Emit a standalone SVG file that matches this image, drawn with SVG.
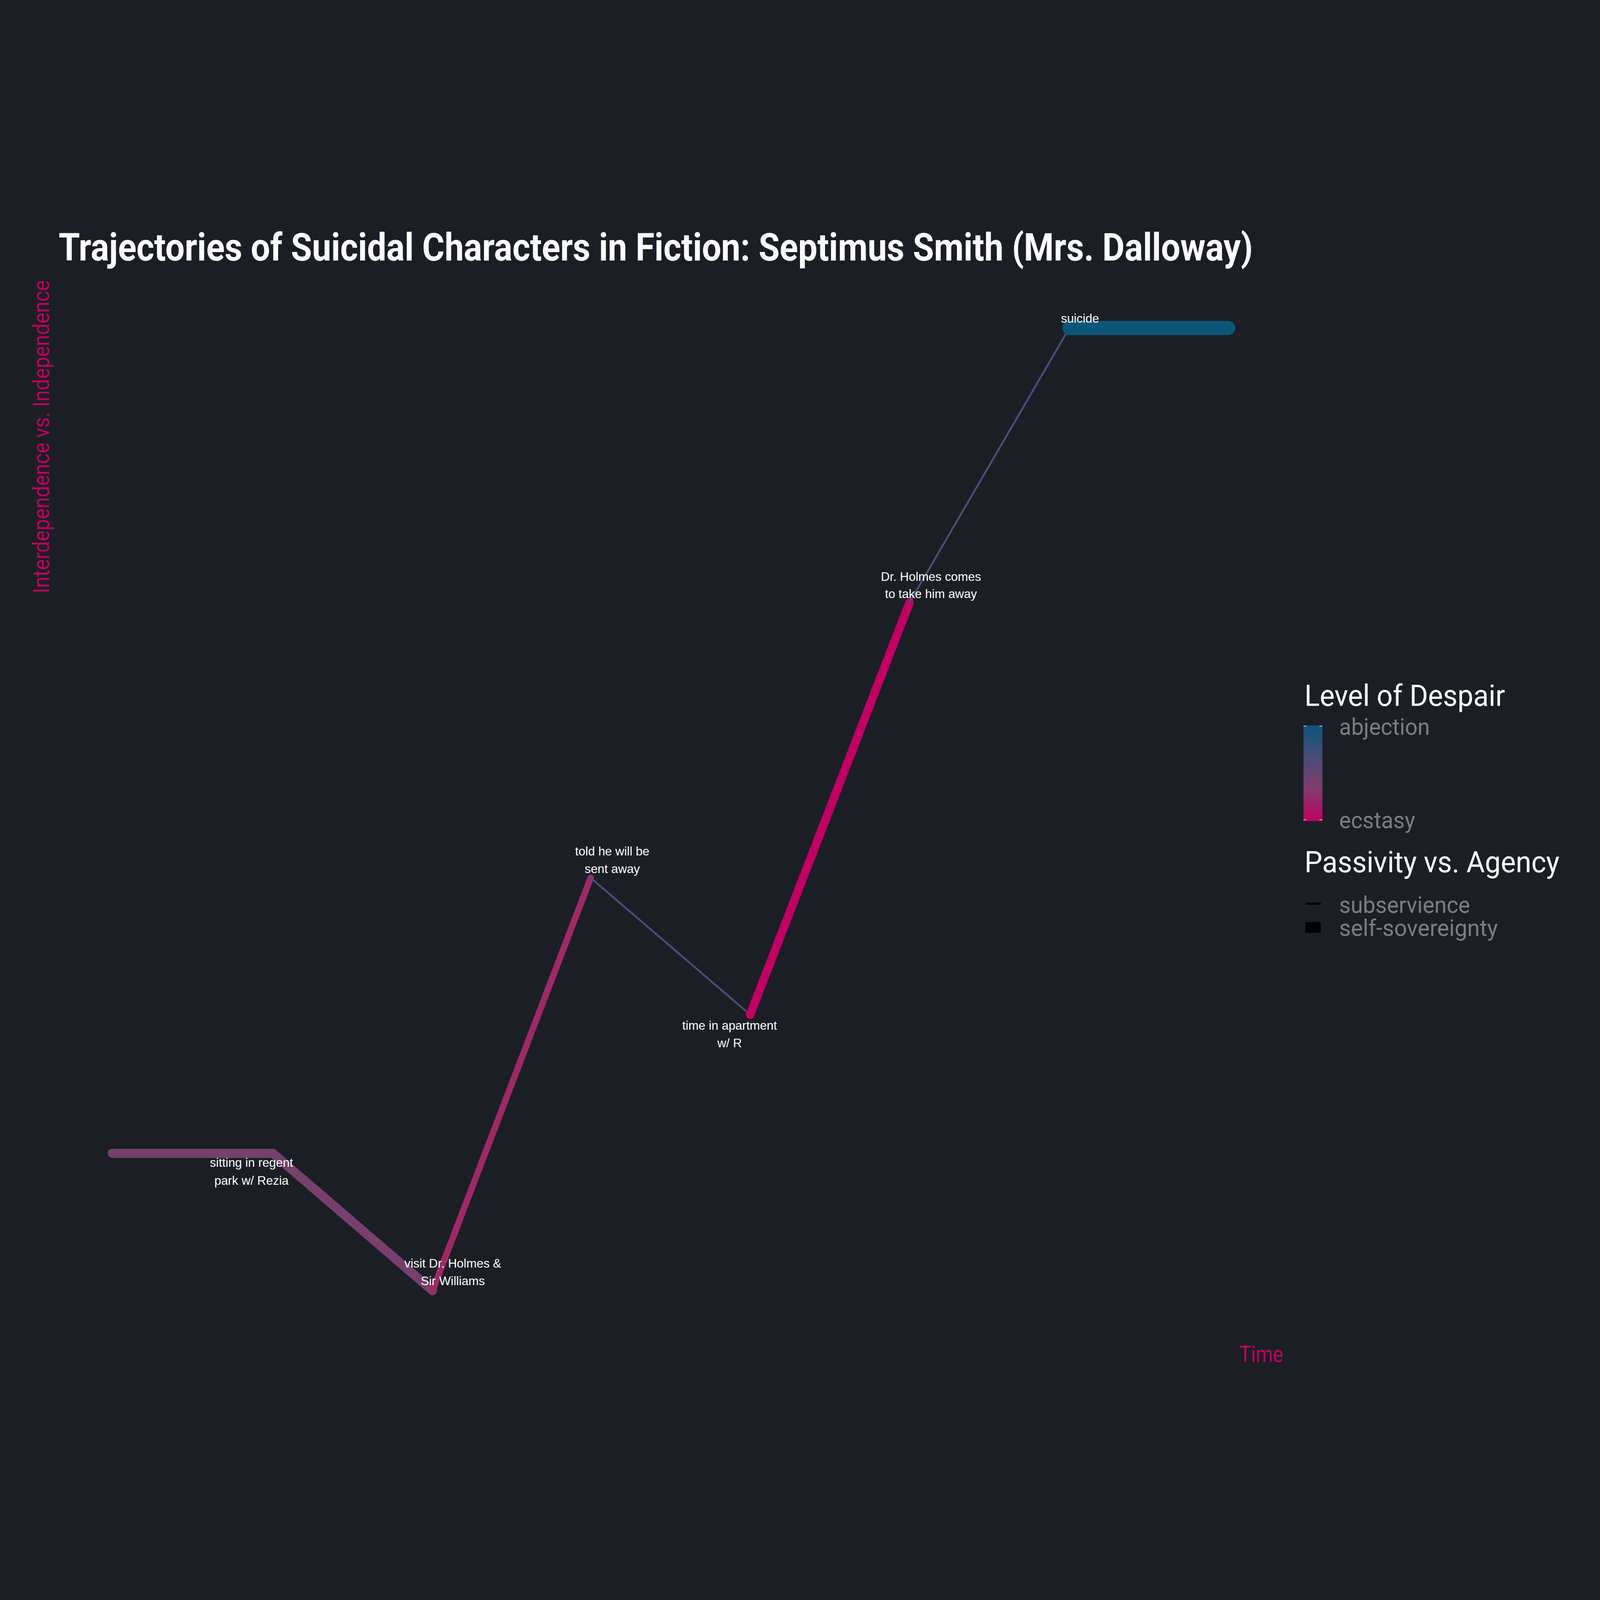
<svg xmlns="http://www.w3.org/2000/svg" width="6000" height="4500" viewBox="0 0 6000 4500" style="width:100vw;height:100vh;display:block;background:#1c1e26">
<defs>
<linearGradient id="despair" x1="0" y1="0" x2="0" y2="1">
<stop offset="0" stop-color="#0b5678"/>
<stop offset="0.35" stop-color="#4b4a78"/>
<stop offset="0.65" stop-color="#7e3e6c"/>
<stop offset="1" stop-color="#c00063"/>
</linearGradient>
<style>
.seg{fill:none;stroke-linecap:round;stroke-linejoin:round}
.lbl{font-family:"Liberation Sans",Arial,sans-serif;font-size:46px;fill:#ffffff;text-anchor:middle}
.axis{font-family:Roboto,"Noto Sans",sans-serif;font-size:86px;fill:#c00063}
.lgt{font-family:Roboto,"Noto Sans",sans-serif;font-size:112px;fill:#ffffff}
.lgl{font-family:Roboto,"Noto Sans",sans-serif;font-size:88px;fill:#7c7b86}
</style>
</defs>
<rect x="0" y="0" width="6000" height="4500" fill="#1c1e26"/>
<text x="220" y="227" font-family="Roboto,'Noto Sans',sans-serif" font-size="144" font-weight="bold" fill="#ffffff" textLength="4478" lengthAdjust="spacingAndGlyphs">Trajectories of Suicidal Characters in Fiction: Septimus Smith (Mrs. Dalloway)</text>
<text class="axis" transform="translate(185,1475) rotate(-90)" textLength="1174" lengthAdjust="spacingAndGlyphs">Interdependence vs. Independence</text>
<text class="axis" x="4648" y="4358" textLength="164" lengthAdjust="spacingAndGlyphs">Time</text>
<g id="connectors">
<path class="seg" d="M421,3575 L1023,3575" stroke="#763f6d" stroke-width="34"/>
<path class="seg" d="M1023,3575 L1622,4090" stroke="#763f6d" stroke-width="34"/>
<path class="seg" d="M1622,4090 L2215,2542" stroke="#9d2968" stroke-width="24"/>
<path class="seg" d="M2215,2542 L2813,3055" stroke="#4e4c7a" stroke-width="7"/>
<path class="seg" d="M2813,3055 L3411,1509" stroke="#c00063" stroke-width="32"/>
<path class="seg" d="M3411,1509 L4010,480" stroke="#4e4c7a" stroke-width="7"/>
<path class="seg" d="M4010,480 L4606,480" stroke="#0b5678" stroke-width="53"/>
</g>
<g id="node-sitting"><text class="lbl" x="943" y="3626">sitting in regent</text><text class="lbl" x="943" y="3693">park w/ Rezia</text></g>
<g id="node-visit"><text class="lbl" x="1698" y="4004">visit Dr. Holmes &amp;</text><text class="lbl" x="1698" y="4070">Sir Williams</text></g>
<g id="node-told"><text class="lbl" x="2296" y="2458">told he will be</text><text class="lbl" x="2296" y="2524">sent away</text></g>
<g id="node-apartment"><text class="lbl" x="2736" y="3111">time in apartment</text><text class="lbl" x="2736" y="3177">w/ R</text></g>
<g id="node-holmes"><text class="lbl" x="3491" y="1428">Dr. Holmes comes</text><text class="lbl" x="3491" y="1493">to take him away</text></g>
<g id="node-suicide"><text class="lbl" x="4050" y="460">suicide</text></g>
<g id="legend">
<text class="lgt" x="4892" y="1897" textLength="752" lengthAdjust="spacingAndGlyphs">Level of Despair</text>
<rect x="4888" y="1970" width="71" height="359" fill="url(#despair)"/>
<g stroke="#ffffff" stroke-width="2">
<line x1="4888" y1="1973" x2="4899" y2="1973"/><line x1="4948" y1="1973" x2="4959" y2="1973"/>
<line x1="4888" y1="2324" x2="4899" y2="2324"/><line x1="4948" y1="2324" x2="4959" y2="2324"/>
</g>
<text class="lgl" x="5022" y="2006" textLength="340" lengthAdjust="spacingAndGlyphs">abjection</text>
<text class="lgl" x="5022" y="2356" textLength="285" lengthAdjust="spacingAndGlyphs">ecstasy</text>
<text class="lgt" x="4892" y="2521" textLength="956" lengthAdjust="spacingAndGlyphs">Passivity vs. Agency</text>
<line x1="4895" y1="2639" x2="4953" y2="2639" stroke="#000000" stroke-width="8"/>
<rect x="4895" y="2708" width="58" height="40" fill="#000000"/>
<text class="lgl" x="5022" y="2673" textLength="491" lengthAdjust="spacingAndGlyphs">subservience</text>
<text class="lgl" x="5022" y="2760" textLength="595" lengthAdjust="spacingAndGlyphs">self-sovereignty</text>
</g>
</svg>
